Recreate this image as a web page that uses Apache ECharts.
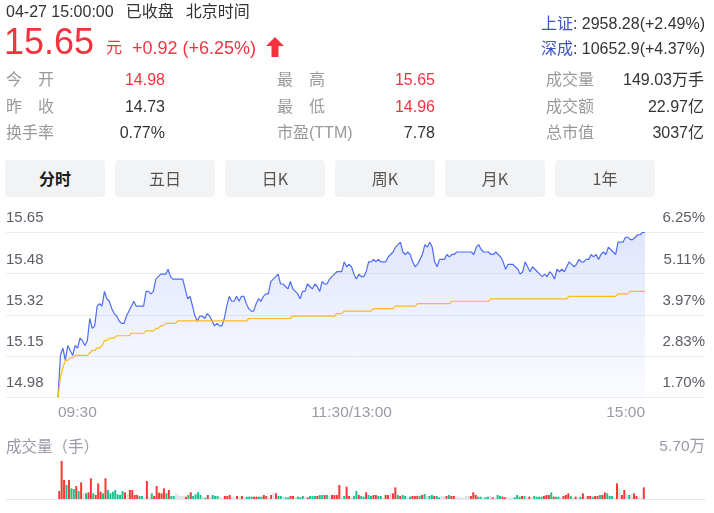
<!DOCTYPE html>
<html><head><meta charset="utf-8">
<script src="https://cdn.jsdelivr.net/npm/echarts@6/dist/echarts.min.js"></script>
<style>
html,body{margin:0;padding:0;background:#fff;}
body{width:714px;height:513px;position:relative;overflow:hidden;font-family:"Liberation Sans",Arial,"Noto Sans CJK SC",sans-serif;}
#chart{position:absolute;left:0;top:0;width:714px;height:513px;}
.t{position:absolute;white-space:nowrap;line-height:1;z-index:2;}
.red{color:#f5333f;}
.dk{color:#333;}
.lb{color:#999;font-size:16px;}
.v{font-size:16px;text-align:right;}
.j{display:flex;justify-content:space-between;width:48px;}
.tab{position:absolute;top:160px;height:37px;width:100px;background:#f2f3f5;border-radius:4px;z-index:2;
 font-size:16px;line-height:37px;text-align:center;color:#555;font-family:"Noto Sans CJK SC","Liberation Sans",sans-serif;}
.tab.on{color:#1a1a1a;font-weight:bold;}
</style></head>
<body>
<div id="chart"></div>

<div class="t dk" style="left:6px;top:4px;font-size:16px;">04-27 15:00:00<span style="margin-left:12px">已收盘</span><span style="margin-left:12px">北京时间</span></div>
<div class="t red" style="left:4px;top:24.4px;font-size:36px;">15.65</div>
<div class="t red" style="left:106px;top:40px;font-size:16px;">元</div>
<div class="t red" style="left:132px;top:39px;font-size:18px;">+0.92 (+6.25%)</div>
<svg class="t" style="left:266px;top:37px" width="18" height="20" viewBox="0 0 18 20"><polygon points="9,0 18,9 12.5,9 12.5,20 5.5,20 5.5,9 0,9" fill="#f5333f"/></svg>

<div class="t dk" style="right:9px;top:16px;font-size:16px;"><span style="color:#3d55c4">上证</span>: 2958.28(+2.49%)</div>
<div class="t dk" style="right:9px;top:41px;font-size:16px;"><span style="color:#3d55c4">深成</span>: 10652.9(+4.37%)</div>

<div class="t lb j" style="left:6px;top:72px;"><span>今</span><span>开</span></div>
<div class="t lb j" style="left:6px;top:98.7px;"><span>昨</span><span>收</span></div>
<div class="t lb" style="left:6px;top:125.3px;">换手率</div>
<div class="t v red" style="right:549px;top:72px;">14.98</div>
<div class="t v dk" style="right:549px;top:98.7px;">14.73</div>
<div class="t v dk" style="right:549px;top:125.3px;">0.77%</div>

<div class="t lb j" style="left:277px;top:72px;"><span>最</span><span>高</span></div>
<div class="t lb j" style="left:277px;top:98.7px;"><span>最</span><span>低</span></div>
<div class="t lb" style="left:277px;top:125.3px;">市盈(TTM)</div>
<div class="t v red" style="right:279px;top:72px;">15.65</div>
<div class="t v red" style="right:279px;top:98.7px;">14.96</div>
<div class="t v dk" style="right:279px;top:125.3px;">7.78</div>

<div class="t lb" style="left:546px;top:72px;">成交量</div>
<div class="t lb" style="left:546px;top:98.7px;">成交额</div>
<div class="t lb" style="left:546px;top:125.3px;">总市值</div>
<div class="t v dk" style="right:10px;top:72px;">149.03万手</div>
<div class="t v dk" style="right:10px;top:98.7px;">22.97亿</div>
<div class="t v dk" style="right:10px;top:125.3px;">3037亿</div>

<div class="tab on" style="left:5px">分时</div>
<div class="tab" style="left:115px">五日</div>
<div class="tab" style="left:225px">日K</div>
<div class="tab" style="left:335px">周K</div>
<div class="tab" style="left:445px">月K</div>
<div class="tab" style="left:555px">1年</div>

<script>
// ---- data ----
const priceMin = 14.98, priceMax = 15.65;
const priceTicks = ['14.98','15.15','15.32','15.48','15.65'];
const pctTicks = ['1.70%','2.83%','3.97%','5.11%','6.25%'];
const timeTickIdx = [0, 120, 240];
const timeTickText = ['09:30', '11:30/13:00', '15:00'];
const volMax = 57000;

const price = [
14.98,15.15,15.18,15.13,15.19,15.17,15.15,15.19,15.18,15.22,
15.21,15.19,15.21,15.30,15.26,15.27,15.35,15.36,15.35,15.41,
15.38,15.37,15.34,15.32,15.31,15.29,15.28,15.28,15.31,15.33,
15.35,15.37,15.35,15.35,15.35,15.35,15.41,15.41,15.40,15.41,
15.46,15.47,15.48,15.48,15.48,15.50,15.47,15.46,15.46,15.46,
15.46,15.46,15.42,15.38,15.39,15.35,15.31,15.29,15.31,15.31,
15.30,15.32,15.31,15.29,15.27,15.28,15.27,15.27,15.30,15.35,
15.39,15.37,15.37,15.39,15.37,15.39,15.39,15.36,15.34,15.33,
15.33,15.36,15.38,15.37,15.39,15.40,15.40,15.45,15.46,15.47,
15.48,15.44,15.44,15.43,15.42,15.45,15.42,15.41,15.40,15.38,
15.41,15.41,15.44,15.43,15.42,15.44,15.43,15.41,15.45,15.44,
15.44,15.46,15.47,15.48,15.49,15.49,15.49,15.53,15.51,15.52,
15.51,15.48,15.46,15.48,15.47,15.47,15.49,15.53,15.53,15.54,
15.53,15.54,15.53,15.53,15.53,15.55,15.56,15.57,15.59,15.60,
15.61,15.57,15.56,15.57,15.56,15.53,15.51,15.52,15.54,15.56,
15.60,15.59,15.61,15.59,15.53,15.51,15.54,15.54,15.54,15.56,
15.55,15.56,15.56,15.57,15.57,15.57,15.57,15.57,15.57,15.57,
15.56,15.59,15.60,15.58,15.57,15.57,15.57,15.56,15.56,15.57,
15.56,15.55,15.53,15.50,15.52,15.52,15.52,15.51,15.50,15.48,
15.49,15.53,15.51,15.49,15.51,15.50,15.49,15.48,15.47,15.48,
15.47,15.49,15.48,15.46,15.50,15.49,15.50,15.49,15.51,15.53,
15.52,15.51,15.52,15.54,15.53,15.53,15.54,15.54,15.56,15.55,
15.56,15.54,15.56,15.57,15.56,15.59,15.58,15.57,15.56,15.61,
15.61,15.61,15.63,15.63,15.62,15.62,15.63,15.64,15.64,15.65,
15.65];

const avgPrice = [
14.98,15.06,15.10,15.13,15.13,15.14,15.14,15.15,15.15,15.15,
15.15,15.15,15.15,15.16,15.17,15.17,15.18,15.18,15.19,15.21,
15.21,15.22,15.22,15.22,15.23,15.23,15.23,15.23,15.23,15.23,
15.24,15.24,15.24,15.24,15.24,15.24,15.25,15.25,15.25,15.25,
15.26,15.26,15.27,15.27,15.28,15.28,15.28,15.28,15.28,15.29,
15.29,15.29,15.29,15.29,15.29,15.29,15.29,15.29,15.29,15.29,
15.29,15.29,15.29,15.29,15.29,15.29,15.29,15.29,15.29,15.29,
15.29,15.29,15.29,15.29,15.29,15.29,15.29,15.29,15.30,15.30,
15.30,15.30,15.30,15.30,15.30,15.30,15.30,15.30,15.30,15.30,
15.30,15.30,15.30,15.30,15.30,15.30,15.31,15.31,15.31,15.31,
15.31,15.31,15.31,15.31,15.31,15.31,15.31,15.31,15.31,15.31,
15.31,15.31,15.31,15.31,15.32,15.32,15.32,15.33,15.33,15.33,
15.33,15.33,15.33,15.33,15.33,15.33,15.33,15.33,15.33,15.34,
15.34,15.34,15.34,15.34,15.34,15.34,15.34,15.34,15.35,15.35,
15.35,15.35,15.35,15.35,15.35,15.35,15.35,15.36,15.36,15.36,
15.36,15.36,15.36,15.36,15.36,15.36,15.36,15.36,15.36,15.36,
15.36,15.37,15.37,15.37,15.37,15.37,15.37,15.37,15.37,15.37,
15.37,15.37,15.37,15.37,15.37,15.37,15.37,15.38,15.38,15.38,
15.38,15.38,15.38,15.38,15.38,15.38,15.38,15.38,15.38,15.38,
15.38,15.38,15.38,15.38,15.38,15.38,15.38,15.38,15.38,15.38,
15.38,15.38,15.38,15.38,15.38,15.38,15.38,15.38,15.38,15.39,
15.39,15.39,15.39,15.39,15.39,15.39,15.39,15.39,15.39,15.39,
15.39,15.39,15.39,15.39,15.39,15.39,15.39,15.39,15.39,15.40,
15.40,15.40,15.40,15.40,15.41,15.41,15.41,15.41,15.41,15.41,
15.41];

const volume = [
12000,57000,28500,21000,28500,16000,15000,19500,12000,25000,
8500,8500,10000,31000,8500,6000,23500,11000,8500,31000,
13500,8500,11000,13500,7000,6000,12000,10000,7000,13500,
13500,6000,6000,4500,4500,3500,27000,3500,8500,4500,
19500,9500,8500,16000,8500,13500,4500,4500,8500,6000,
4500,4500,3500,6000,10000,4500,7000,10000,6000,3500,
2000,6000,3500,6000,4500,4500,3500,2000,4500,4500,
6000,3500,2000,4500,3500,4500,2000,3500,3500,3500,
3500,3500,3500,3500,6000,4500,3500,6000,10000,8500,
4500,4500,3500,2500,2500,4500,4500,3500,3500,2500,
4500,3500,2500,4500,4500,4500,4500,6000,6000,6000,
6000,3500,6000,6000,6000,21000,4500,4500,18500,4500,
3500,4500,12000,6000,4500,3500,10000,6000,4500,6000,
6000,4500,4500,2000,6000,6000,8500,8500,17500,6000,
4500,6000,4500,2500,3500,4500,4500,4500,4500,6000,
7500,4500,4500,6000,4500,4500,2500,4500,4500,4500,
6000,4500,4500,3500,3500,2000,2000,4500,4500,4500,
10000,6000,3500,3500,2500,2500,3500,4500,2500,2000,
6000,4500,3500,2500,2500,2500,2000,2500,6000,3500,
4500,4500,3500,3500,2000,4500,3500,3500,3500,4500,
6000,6000,10000,3500,3500,3500,2000,4500,6000,8500,
4500,2000,3500,2000,3500,8500,2000,4500,4500,3500,
4500,4500,6000,6000,10000,8500,4500,4500,2000,23500,
16000,6000,13500,7500,6000,7500,8500,4500,3500,2000,
17500];

// r = up, g = down, n = unchanged
const volumeDir = (
'rrrgrggrgr'+'ngrrgrrrgr'+'gggggggrnr'+'rrrggnrngr'+'rrrrgrggnn'+
'nnrgrggggn'+'grngggnnrr'+'rnnrnrnggg'+'rrggrrnrnr'+'ggnggrrngg'+
'gnrgggrggr'+'gnrrrrngrr'+'nggrggrggr'+'rggnrrnrrg'+'rggngrrrgr'+
'gnggrggnnr'+'grrnnnnnnr'+'rrggnggnrn'+'ggrrnnnggg'+'rgnrnggggr'+
'rrgrggnrrr'+'gnrngrnrrg'+'rrgrrgggnr'+'nrrngnrrnn'+'r').split('');

// minute categories 09:30-11:30, 13:01-15:00
const categories = [];
for (let m = 9*60+30; m <= 11*60+30; m++) categories.push(String(Math.floor(m/60)).padStart(2,'0')+':'+String(m%60).padStart(2,'0'));
for (let m = 13*60+1; m <= 15*60; m++) categories.push(String(Math.floor(m/60)).padStart(2,'0')+':'+String(m%60).padStart(2,'0'));

// ---- chart ----
const FONT = '"Liberation Sans", Arial, "Noto Sans CJK SC", sans-serif';
const dirColor = {r:'#fd3535', g:'#16c28d', n:'#dcdee6'};
const chart = echarts.init(document.getElementById('chart'), null, {renderer:'canvas', width:714, height:513});
const top1 = 232.3, h1 = 165;
chart.setOption({
  animation:false,
  backgroundColor:'#fff',
  textStyle:{fontFamily:FONT},
  grid:[
    {left:58, right:69, top:top1, height:h1},
    {left:6, right:9, top:top1, height:h1},
    {left:58, right:69, top:461, height:38},
    {left:6, right:9, top:461, height:38}
  ],
  xAxis:[
    {type:'category', gridIndex:0, data:categories, boundaryGap:false,
     axisLine:{show:false}, axisTick:{show:false}, splitLine:{show:false},
     axisLabel:{interval:(i)=>timeTickIdx.indexOf(i)>=0,
       formatter:(v,i)=>timeTickText[timeTickIdx.indexOf(i)],
       color:'#9a9aa6', fontSize:15.5, fontFamily:FONT, margin:8,
       alignMinLabel:'left', alignMaxLabel:'right'}},
    {type:'value', gridIndex:1, min:0, max:1, show:false},
    {type:'category', gridIndex:2, data:categories, boundaryGap:true, show:false},
    {type:'value', gridIndex:3, min:0, max:1,
     axisLine:{show:true, lineStyle:{color:'#e6e7eb', width:1}},
     axisLabel:{show:false}, axisTick:{show:false}, splitLine:{show:false}}
  ],
  yAxis:[
    {type:'value', gridIndex:0, min:priceMin, max:priceMax, show:false},
    {type:'value', gridIndex:1, min:0, max:priceTicks.length-1, interval:1, position:'left',
     axisLine:{show:false}, axisTick:{show:false},
     splitLine:{show:true, lineStyle:{color:'#ebedf0', width:1}},
     axisLabel:{inside:true, margin:0, color:'#5c5c66', fontSize:15, fontFamily:FONT,
       verticalAlign:'bottom', lineHeight:28, formatter:(v)=>priceTicks[v]}},
    {type:'value', gridIndex:1, min:0, max:pctTicks.length-1, interval:1, position:'right',
     axisLine:{show:false}, axisTick:{show:false}, splitLine:{show:false},
     axisLabel:{inside:true, margin:0, color:'#5c5c66', fontSize:15, fontFamily:FONT,
       verticalAlign:'bottom', lineHeight:28, formatter:(v)=>pctTicks[v]}},
    {type:'value', gridIndex:2, min:0, max:volMax, show:false},
    {type:'value', gridIndex:3, min:0, max:volMax, interval:volMax, position:'right',
     axisLine:{show:false}, axisTick:{show:false}, splitLine:{show:false},
     axisLabel:{inside:true, margin:0, color:'#9a9aa8', fontSize:15.5, fontFamily:FONT,
       verticalAlign:'bottom', lineHeight:29,
       formatter:(v)=> v===volMax ? (volMax/10000).toFixed(2)+'万' : ''}}
  ],
  graphic:[
    {type:'text', left:6, top:438, style:{text:'成交量（手）', fill:'#9a9aa8', fontSize:15.5, fontFamily:'"Noto Sans CJK SC", sans-serif'}}
  ],
  series:[
    {type:'line', xAxisIndex:0, yAxisIndex:0, data:price, symbol:'none', silent:true,
     lineStyle:{color:'#4e6ef2', width:1.2},
     areaStyle:{color:new echarts.graphic.LinearGradient(0,0,0,1,[
       {offset:0, color:'rgba(78,110,242,0.25)'},
       {offset:1, color:'rgba(78,110,242,0.03)'}])}},
    {type:'line', xAxisIndex:0, yAxisIndex:0, data:avgPrice, symbol:'none', silent:true,
     lineStyle:{color:'#fabb1e', width:1.2}},
    {type:'bar', xAxisIndex:2, yAxisIndex:3, silent:true, barCategoryGap:'18%',
     data:volume.map((v,i)=>({value:v, itemStyle:{color:dirColor[volumeDir[i]]}}))}
  ]
});
</script>
</body></html>
